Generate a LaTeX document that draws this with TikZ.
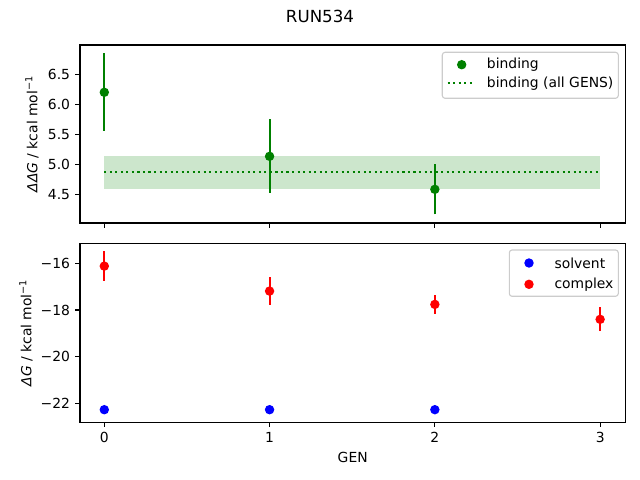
\documentclass[tikz,border=0pt]{standalone}
\usepackage{fontspec}
\setmainfont{DejaVu Sans}
\definecolor{mplgreen}{HTML}{008000}
\definecolor{mplred}{HTML}{FF0000}
\definecolor{mplblue}{HTML}{0000FF}
\definecolor{legendedge}{HTML}{CCCCCC}
\tikzset{
  spine/.style={line width=0.8pt, black},
  tickmark/.style={line width=0.8pt, black},
  errbar/.style={line width=1.5pt},
  legendbox/.style={draw=legendedge, line width=0.8pt, fill=white, fill opacity=0.8, rounded corners=2pt},
  ticklabel/.style={inner sep=0pt, font=\fontsize{10}{12}\selectfont},
}
\begin{document}
\begin{tikzpicture}[x=0.72pt, y=-0.72pt, font=\fontsize{10}{12}\selectfont]
  \useasboundingbox (0,0) rectangle (640,480);

  % title
  \node[font=\fontsize{12}{14}\selectfont] (title) at (320,16.8) {RUN534};

  % ---- top axes: binding free energy ----
  \begin{scope}[shift={(104.3,164.3)}, x=119.0pt, y=43.2pt, shift={(0,-5)}]
    \fill[mplgreen, opacity=0.2] (0,4.595) rectangle (3,5.138);
    \draw[mplgreen, line width=1.5pt, dash pattern=on 1.5pt off 2.475pt] (0,4.866) -- (3,4.866);
    \draw[mplgreen, errbar] (0,5.56) -- (0,6.85);
    \draw[mplgreen, errbar] (1,4.527) -- (1,5.75);
    \draw[mplgreen, errbar] (2,4.167) -- (2,5.0);
    \fill[mplgreen] (0,6.2) circle (3.4pt);
    \fill[mplgreen] (1,5.133) circle (3.4pt);
    \fill[mplgreen] (2,4.583) circle (3.4pt);
  \end{scope}
  \draw[spine] (80,45) rectangle (625.5,223);
  \foreach \v/\py in {4.5/194.3, 5.0/164.3, 5.5/134.3, 6.0/104.3, 6.5/74.3} {
    \draw[tickmark] (80,\py) -- (75.1,\py);
    \node[ticklabel, anchor=east] at (70.3,\py) {\v};
  }
  \foreach \px in {104.3, 269.6, 434.9, 600.2} {
    \draw[tickmark] (\px,223) -- (\px,227.9);
  }
  \node[rotate=90] (toplabel) at (32,134) {\textit{ΔΔG} / kcal mol\textsuperscript{−1}};

  % legend (top)
  \draw[legendbox] (442.3,52.3) rectangle (618.3,98.3);
  \fill[mplgreen] (461.7,64.7) circle (3.4pt);
  \node[anchor=west, inner sep=0pt] (bindtext) at (486.7,64.7) {binding};
  \draw[mplgreen, line width=1.5pt, dash pattern=on 1.5pt off 2.475pt] (447.7,83.3) -- (475,83.3);
  \node[anchor=west, inner sep=0pt] (alltext) at (486.7,83.3) {binding (all GENS)};

  % ---- bottom axes: solvent and complex ----
  \begin{scope}[shift={(104.3,263.3)}, x=119.0pt, y=16.81pt, shift={(0,16)}]
    \foreach \g/\val/\err in {0/-16.12/0.63, 1/-17.19/0.59, 2/-17.76/0.40, 3/-18.40/0.51} {
      \draw[mplred, errbar] (\g,\val-\err) -- (\g,\val+\err);
    }
    \foreach \g in {0,1,2} {
      \fill[mplblue] (\g,-22.27) circle (3.4pt);
    }
    \foreach \g/\val in {0/-16.12, 1/-17.19, 2/-17.76, 3/-18.40} {
      \fill[mplred] (\g,\val) circle (3.4pt);
    }
  \end{scope}
  \draw[spine] (80,243.3) rectangle (625.5,422.3);
  \foreach \v/\py in {16/263.3, 18/310, 20/356.7, 22/403.7} {
    \draw[tickmark] (80,\py) -- (75.1,\py);
    \node[ticklabel, anchor=east] at (70.3,\py) {−\v};
  }
  \foreach \g/\px in {0/104.3, 1/269.6, 2/434.9, 3/600.2} {
    \draw[tickmark] (\px,422.3) -- (\px,427.2);
    \node[ticklabel, anchor=north] at (\px,432) {\g};
  }
  \node (xlabel) at (352.7,457.3) {GEN};
  \node[rotate=90] (botlabel) at (26,332.8) {\textit{ΔG} / kcal mol\textsuperscript{−1}};

  % legend (bottom)
  \draw[legendbox] (509.3,250) rectangle (618.3,296.3);
  \fill[mplblue] (529,263) circle (3.4pt);
  \node[anchor=west, inner sep=0pt] (solvtext) at (554.3,263) {solvent};
  \fill[mplred] (529,284.3) circle (3.4pt);
  \node[anchor=west, inner sep=0pt] (cplxtext) at (554.3,284.3) {complex};
\end{tikzpicture}
\end{document}
